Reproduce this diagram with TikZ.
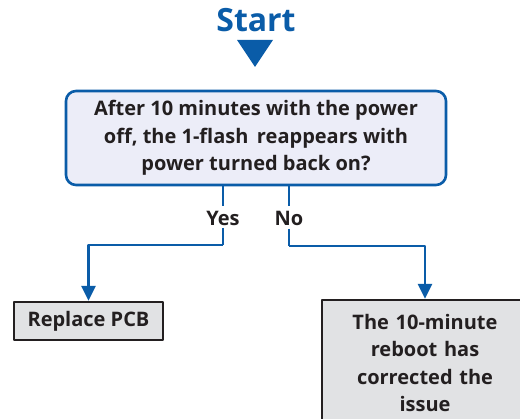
\documentclass[tikz,border=0pt]{standalone}
\usepackage{fontspec}
\setmainfont{Open Sans}
\usetikzlibrary{arrows.meta,positioning}
\definecolor{flowblue}{HTML}{0A5CA8}
\definecolor{askfill}{HTML}{ECEDF8}
\definecolor{endfill}{HTML}{E1E2E4}
\definecolor{ink}{HTML}{231F20}
\tikzset{
  every picture/.style={line join=round, >={Triangle[width=14pt,length=15pt]}},
  txt/.style={font=\fontsize{20}{27.5}\selectfont\bfseries, text=ink, align=center, inner sep=0pt},
  askbox/.style={txt, draw=flowblue, line width=2.6pt, fill=askfill, rounded corners=10pt,
    minimum width=380pt, minimum height=94pt},
  endbox/.style={txt, draw=ink, line width=2.4pt, fill=endfill},
  flow/.style={draw=flowblue, line width=2.6pt},
}

\begin{document}
\begin{tikzpicture}[x=1pt,y=-1pt]
\useasboundingbox (0,0) rectangle (520,419);
\clip (0,0) rectangle (520,419);
% start marker
\node[font=\fontsize{32}{33}\selectfont\bfseries, text=flowblue, inner sep=0pt] (start) at (256,20) {Start};
\fill[flowblue] (237,40) -- (273,40) -- (255,67) -- cycle;
% question
\node[askbox] (ask) at (256,138) {After 10 minutes with the power\\off, the 1-flash\, reappears with\\power turned back on?};
% answers
\node[txt] (yes) at (223,218) {Yes};
\node[txt] (no) at (289,218) {No};
\node[endbox, minimum width=149pt, minimum height=38pt] (pcb) at (88.5,321) {Replace PCB};
\node[endbox, text width=190pt, minimum width=206pt, minimum height=126pt] (ok) at (425,363)
  {The 10-minute\\reboot has\\corrected the\\issue};
% connectors
\coordinate (yturn) at (223,245);
\coordinate (nturn) at (289,246);
\draw[flow] (ask.south -| yes) -- ++(0,20);
\draw[flow] (yes) ++(0,10) -- (yturn);
\draw[flow,->] (yturn) -| (pcb.north);
\draw[flow] (ask.south -| no) -- ++(0,20);
\draw[flow] (no) ++(0,11) -- (nturn);
\draw[flow,->] (nturn) -| (ok.north);
\end{tikzpicture}
\end{document}
